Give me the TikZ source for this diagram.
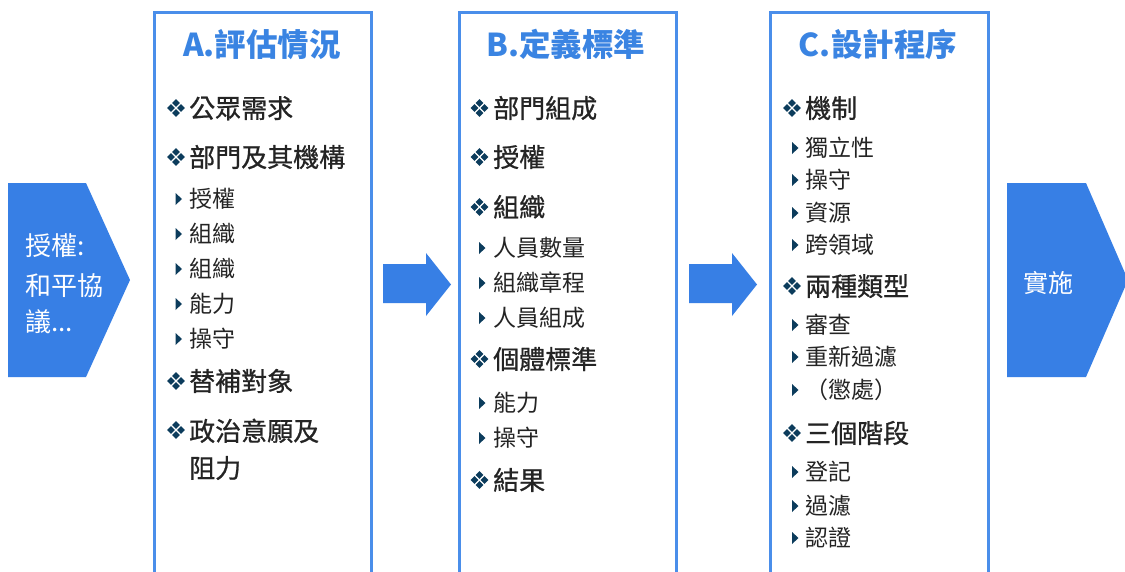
\documentclass[tikz,border=0pt]{standalone}
\usepackage{fontspec}
\setmainfont{Noto Sans CJK TC}
\newfontfamily\semibold[FakeBold=0.8]{Noto Sans CJK TC}
\definecolor{arrowblue}{RGB}{55,127,229}
\definecolor{frameblue}{RGB}{74,142,234}
\definecolor{titleblue}{RGB}{58,132,226}
\definecolor{bulletnavy}{RGB}{12,60,92}
\definecolor{txtgrey}{RGB}{36,36,36}
\tikzset{
  frame/.style={draw=frameblue, line width=2.6pt, fill=white, anchor=north west,
    minimum width=217pt, minimum height=620pt, inner sep=0},
  titlelbl/.style={anchor=base, inner sep=0, text=titleblue,
    font=\fontsize{31.5}{31.5}\selectfont\bfseries, yshift=-12pt},
  mainlbl/.style={anchor=base west, inner sep=0, text=txtgrey,
    font=\fontsize{26}{26}\selectfont\semibold, yshift=-9.9pt},
  sublbl/.style={anchor=base west, inner sep=0, text=txtgrey,
    font=\fontsize{23}{23}\selectfont, yshift=-8.7pt},
  whitelbl/.style={inner sep=0, text=white, align=left},
  blockarrow/.style={fill=arrowblue},
  dbul/.pic={
    \foreach \dx/\dy in {5/0,-5/0,0/5,0/-5}
      \fill[bulletnavy] (\dx,\dy) +(-3.8,0) -- +(0,3.8) -- +(3.8,0) -- +(0,-3.8) -- cycle;
  },
  tbul/.pic={
    \fill[bulletnavy] (-3,-6) -- (3.5,0) -- (-3,6) -- cycle;
  }
}
\newcommand\mitem[5]{\pic at (#2,#4) {dbul}; \node[mainlbl] (#1) at (#3,#4) {#5};}
\newcommand\sitem[5]{\pic at (#2,#4) {tbul}; \node[sublbl] (#1) at (#3,#4) {#5};}
\begin{document}
\begin{tikzpicture}[x=1pt,y=-1pt]
\useasboundingbox (0,0) rectangle (1125,571);
\clip (0,0) rectangle (1125,571);
\fill[white] (0,0) rectangle (1125,571);

% left pentagon
\fill[arrowblue] (8,183) -- (86,183) -- (130,280) -- (86,377) -- (8,377) -- cycle;
\node[whitelbl, anchor=north west, font=\fontsize{26}{36}\selectfont] (auth) at (25,233)
  {授權:\\[4pt]和平協\\議...};

% right pentagon
\fill[arrowblue] (1007,183) -- (1086,183) -- (1128,280) -- (1086,377) -- (1007,377) -- cycle;
\node[whitelbl, anchor=base, font=\fontsize{25}{25}\selectfont, yshift=-9.5pt] (impl) at (1048,283) {實施};

% middle arrows
\fill[blockarrow] (383,264) -- (426,264) -- (426,253) -- (451,284.5) -- (426,316) -- (426,303) -- (383,303) -- cycle;
\fill[blockarrow] (689,264) -- (732,264) -- (732,253) -- (757,284.5) -- (732,316) -- (732,303) -- (689,303) -- cycle;

% boxes
\node[frame] (boxA) at (153,11) {};
\node[frame] (boxB) at (458,11) {};
\node[frame, minimum width=218pt] (boxC) at (769,11) {};

% titles
\node[titlelbl] (titleA) at (262,44) {A.評估情況};
\node[titlelbl] (titleB) at (566,44) {B.定義標準};
\node[titlelbl] (titleC) at (878,44) {C.設計程序};

% box A
\mitem{a1}{176}{189}{108}{公眾需求}
\mitem{a2}{176}{189}{157}{部門及其機構}
\sitem{a21}{178.5}{189}{199}{授權}
\sitem{a22}{178.5}{189}{234}{組織}
\sitem{a23}{178.5}{189}{269}{組織}
\sitem{a24}{178.5}{189}{304}{能力}
\sitem{a25}{178.5}{189}{339}{操守}
\mitem{a3}{176}{189}{381}{替補對象}
\pic at (176,430) {dbul};
\node[inner sep=0, anchor=north west, align=left, text=txtgrey,
  font=\fontsize{26}{37}\selectfont\semibold] (a4) at (189,418.5) {政治意願及\\阻力};

% box B
\mitem{b1}{479.5}{493}{108}{部門組成}
\mitem{b2}{479.5}{493}{157}{授權}
\mitem{b3}{479.5}{493}{207}{組織}
\sitem{b31}{482}{493}{248}{人員數量}
\sitem{b32}{482}{493}{283}{組織章程}
\sitem{b33}{482}{493}{318}{人員組成}
\mitem{b4}{479.5}{493}{359}{個體標準}
\sitem{b41}{482}{493}{403}{能力}
\sitem{b42}{482}{493}{438}{操守}
\mitem{b5}{479.5}{493}{480}{結果}

% box C
\mitem{c1}{792}{805}{108}{機制}
\sitem{c11}{795}{805}{148}{獨立性}
\sitem{c12}{795}{805}{180}{操守}
\sitem{c13}{795}{805}{213}{資源}
\sitem{c14}{795}{805}{245}{跨領域}
\mitem{c2}{792}{805}{286}{兩種類型}
\sitem{c21}{795}{805}{325}{審查}
\sitem{c22}{795}{805}{357}{重新過濾}
\sitem{c23}{795}{805}{390}{（懲處）}
\mitem{c3}{792}{805}{433}{三個階段}
\sitem{c31}{795}{805}{472}{登記}
\sitem{c32}{795}{805}{506}{過濾}
\sitem{c33}{795}{805}{538}{認證}
\end{tikzpicture}
\end{document}
